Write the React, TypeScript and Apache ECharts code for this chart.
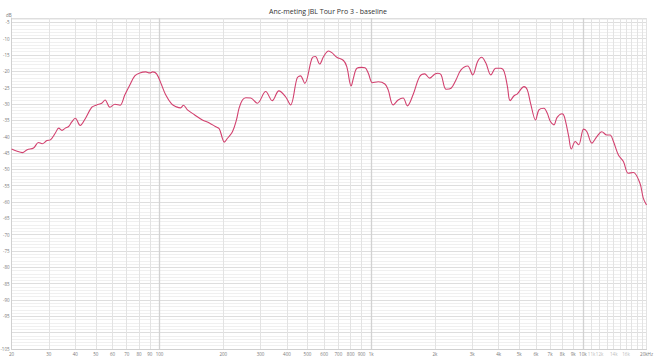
import React, { useEffect, useRef } from "react";
import * as echarts from "echarts";

const titleText = "Anc-meting JBL Tour Pro 3 - baseline";

const freqHz = [
  20, 21.1, 22.5, 23.7, 25.4, 26.8, 27.9, 29.4, 30.5, 32.2,
  33.4, 34.6, 35.9, 37.2, 38.5, 40.0, 42.2, 44.5, 47.9, 50.5,
  53.3, 55.3, 58.3, 61.6, 65.0, 68.6, 72.4, 76.4, 80.7, 86.1,
  89.9, 92.8, 96.9, 102.3, 106.9, 114.0, 120.3, 125.7, 129.8, 135.5,
  146.2, 159.4, 171.9, 183.4, 191.5, 198.5, 202.2, 209.5, 221.1, 230.9,
  237.8, 246.4, 255.6, 269.8, 289.8, 317.4, 340.8, 366.4, 393.9, 415.8,
  446.6, 463.3, 485.4, 525.3, 544.9, 570.8, 596.0, 629.0, 651.9, 688.1,
  739.9, 766.8, 804.2, 824.4, 854.3, 901.8, 935.5, 969.4, 1015, 1080,
  1161, 1203, 1270, 1341, 1415, 1482, 1577, 1695, 1789, 1889,
  1994, 2066, 2140, 2260, 2385, 2518, 2658, 2857, 3016, 3184,
  3325, 3483, 3676, 3881, 4096, 4250, 4404, 4534, 4734, 4906,
  5274, 5466, 5664, 5980, 6202, 6548, 6786, 7032, 7296, 7560,
  7980, 8180, 8580, 8824, 9214, 9558, 10090, 10456, 11036, 11650,
  12296, 12980, 13450, 13954, 14730, 15548, 16410, 17322, 18602, 19300,
  20000,
];

const dbValues = [
  -43.8, -44.4, -44.9, -44.0, -43.5, -41.8, -42.2, -41.2, -41.0, -38.9,
  -37.4, -38.1, -37.4, -36.9, -35.5, -34.4, -36.6, -34.6, -31.0, -30.3,
  -29.8, -28.8, -31.0, -30.1, -30.4, -27.2, -24.2, -21.4, -20.5, -20.2,
  -20.5, -20.2, -20.8, -24.2, -27.2, -30.0, -30.9, -31.2, -30.4, -31.8,
  -33.3, -34.9, -35.8, -36.9, -37.6, -40.7, -41.7, -40.5, -38.5, -34.9,
  -31.2, -28.8, -28.1, -28.2, -29.8, -26.2, -29.0, -26.0, -27.8, -30.3,
  -22.1, -21.4, -23.7, -16.0, -15.5, -17.8, -15.5, -13.8, -14.3, -15.7,
  -16.7, -18.6, -24.5, -22.1, -19.1, -18.8, -18.9, -20.6, -23.5, -23.2,
  -23.9, -25.7, -30.3, -28.8, -28.2, -30.6, -27.2, -21.6, -20.8, -22.1,
  -20.9, -20.6, -21.1, -25.5, -25.2, -22.6, -19.6, -18.4, -21.1, -17.0,
  -15.7, -17.5, -21.1, -19.1, -19.1, -20.1, -24.7, -29.0, -27.5, -26.9,
  -24.7, -25.7, -29.8, -34.9, -31.8, -31.3, -32.8, -35.4, -36.4, -34.1,
  -33.0, -33.9, -40.0, -43.8, -41.5, -42.5, -37.7, -38.5, -42.0, -40.0,
  -38.5, -39.5, -39.5, -41.5, -45.6, -47.6, -51.2, -51.0, -54.2, -58.8,
  -60.9,
];

const gridFreqs = [
  20, 30, 40, 50, 60, 70, 80, 90, 100,
  200, 300, 400, 500, 600, 700, 800, 900, 1000,
  2000, 3000, 4000, 5000, 6000, 7000, 8000, 9000, 10000,
  11000, 12000, 13000, 14000, 15000, 16000, 17000, 18000, 19000, 20000,
];

const decadeFreqs = [100, 1000, 10000];

const labelFreqs = [
  20, 30, 40, 50, 60, 70, 80, 90, 100,
  200, 300, 400, 500, 600, 700, 800, 900, 1000,
  2000, 3000, 4000, 5000, 6000, 7000, 8000, 9000, 10000,
  11000, 12000, 14000, 16000, 18000, 20000,
];
const labelTexts = [
  "20", "30", "40", "50", "60", "70", "80", "90", "100",
  "200", "300", "400", "500", "600", "700", "800", "900", "1k",
  "2k", "3k", "4k", "5k", "6k", "7k", "8k", "9k", "10k",
  "11k", "12k", "14k", "16k", "18k", "20kHz",
];
const dimLabels = ["11k", "12k", "14k", "16k", "18k"];

const yLabelValues = [-5, -10, -15, -20, -25, -30, -35, -40, -45, -50, -55, -60, -65, -70, -75, -80, -85, -90, -95, -100];
const yCornerLabel = -105;
const yMin = -105;
const yMax = -3.7;
const freqMin = 20;
const freqMax = 20000;

export default function App() {
  const ref = useRef<HTMLDivElement>(null);
  useEffect(() => {
    if (!ref.current) return;
    const chart = echarts.init(ref.current, null, { renderer: "svg" });
    const lg = (f: number) => Math.log10(f);
    const labelLogs = labelFreqs.map(lg);
    const font = "Open Sans, Noto Sans, sans-serif";
    const labelStyle = { fontSize: 4.5, color: "#787878", fontFamily: font };
    chart.setOption({
      animation: false,
      backgroundColor: "#ffffff",
      title: {
        text: titleText,
        left: "center",
        top: 3,
        textStyle: { fontSize: 7, fontWeight: "normal", color: "#333", fontFamily: font },
      },
      grid: { left: 11, right: 6, top: 18, bottom: 9, containLabel: false },
      xAxis: [
        {
          type: "value",
          min: lg(freqMin),
          max: lg(freqMax),
          axisLine: { show: true, lineStyle: { color: "#d0d0d0", width: 1 } },
          axisTick: { show: false, customValues: gridFreqs.map(lg) },
          axisLabel: {
            ...labelStyle,
            margin: 2,
            customValues: labelLogs,
            showMinLabel: true,
            showMaxLabel: true,
            hideOverlap: false,
            formatter: (v: number) => {
              const i = labelLogs.findIndex((l) => Math.abs(l - v) < 1e-6);
              const t = i >= 0 ? labelTexts[i] : "";
              return dimLabels.includes(t) ? `{d|${t}}` : t;
            },
            rich: { d: { fontSize: 4.5, color: "#bcbcbc", fontFamily: font } },
          },
          splitLine: { show: true, lineStyle: { color: "#e3e3e3", width: 1 } },
        },
        {
          type: "value",
          position: "bottom",
          min: lg(freqMin),
          max: lg(freqMax),
          axisLine: { show: false },
          axisTick: { show: false, customValues: decadeFreqs.map(lg) },
          axisLabel: { show: false },
          splitLine: { show: true, lineStyle: { color: "#d2d2d2", width: 1.3 } },
        },
      ],
      yAxis: [
        {
          type: "value",
          position: "left",
          min: yMin,
          max: yMax,
          interval: 1,
          name: "dB",
          nameLocation: "end",
          nameGap: 1,
          nameTextStyle: { fontSize: 4.5, color: "#787878", fontFamily: font, align: "right" },
          axisLine: { show: true, lineStyle: { color: "#d0d0d0" } },
          axisTick: { show: false },
          axisLabel: { ...labelStyle, margin: 2, customValues: yLabelValues, showMaxLabel: false, hideOverlap: false },
          splitLine: { show: true, lineStyle: { color: "#f0f0f0", width: 1 } },
        },
        {
          type: "value",
          position: "left",
          min: yMin,
          max: yMax,
          interval: 5,
          axisLine: { show: false },
          axisTick: { show: false },
          axisLabel: { show: false },
          splitLine: { show: true, lineStyle: { color: "#dedede", width: 1 } },
        },
      ],
      series: [
        {
          type: "line",
          xAxisIndex: 0,
          yAxisIndex: 0,
          data: freqHz.map((f, i) => [lg(f), dbValues[i]]),
          showSymbol: false,
          symbol: "none",
          smooth: 0.35,
          lineStyle: { color: "#d2416f", width: 1.1 },
          z: 5,
        },
      ],
    });
    const p = chart.convertToPixel({ xAxisIndex: 0, yAxisIndex: 0 }, [lg(freqMin), yCornerLabel]);
    if (p) {
      chart.setOption({
        graphic: [
          {
            type: "text",
            x: p[0] - 2,
            y: p[1],
            silent: true,
            style: {
              text: String(yCornerLabel),
              fontSize: 4.5,
              fill: "#787878",
              fontFamily: font,
              align: "right",
              verticalAlign: "middle",
            },
          },
        ],
      });
    }
    return () => chart.dispose();
  }, []);
  return <div ref={ref} style={{ width: 656, height: 358, position: "fixed", left: 0, top: 0 }} />;
}
